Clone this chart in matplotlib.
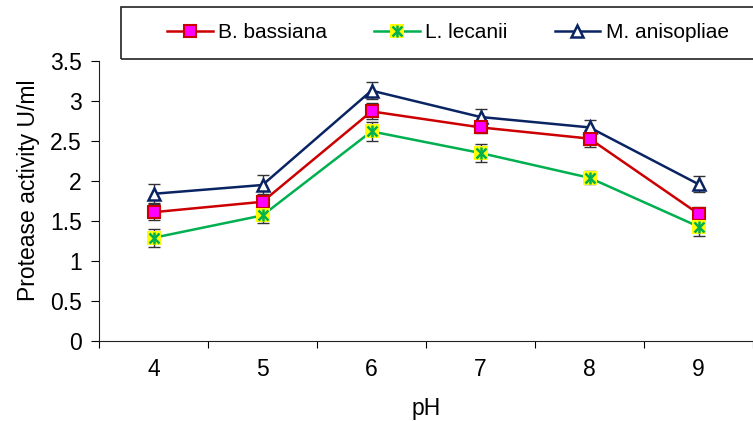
import matplotlib
matplotlib.use("Agg")
import matplotlib.pyplot as plt
from matplotlib.lines import Line2D
from matplotlib.patches import Rectangle
import numpy as np

plt.rcParams['font.family'] = ['Liberation Sans', 'DejaVu Sans']

ph = ['4', '5', '6', '7', '8', '9']
b_bassiana = [1.61, 1.74, 2.87, 2.67, 2.53, 1.59]
b_err = [0.10, 0.10, 0.10, 0.07, 0.11, 0.09]
l_lecanii = [1.29, 1.57, 2.62, 2.35, 2.04, 1.43]
l_err = [0.11, 0.10, 0.12, 0.11, 0.08, 0.12]
m_anisopliae = [1.84, 1.95, 3.13, 2.80, 2.67, 1.96]
m_err = [0.12, 0.12, 0.11, 0.10, 0.09, 0.10]

red = '#CC0000'
magenta = '#FF00FF'
green = '#00B050'
yellow = '#FFFF00'
navy = '#0A2463'
FS_AX = 16.5
FS_LEG = 15

fig = plt.figure(figsize=(7.53, 4.21), dpi=100)
ax = fig.add_axes([99/753, 80/421, 654/753, 280/421])
x = np.arange(len(ph))

ekw = dict(fmt='none', ecolor='#333333', elinewidth=1.0, capsize=4, capthick=1.0, zorder=2)
ax.errorbar(x, m_anisopliae, yerr=m_err, **ekw)
ax.errorbar(x, b_bassiana, yerr=b_err, **ekw)
ax.errorbar(x, l_lecanii, yerr=l_err, **ekw)

ax.plot(x, m_anisopliae, color=navy, lw=1.8, marker='^', ms=8.5, mfc='white', mec=navy, mew=1.8, zorder=4)
ax.plot(x, b_bassiana, color=red, lw=1.8, marker='s', ms=8.5, mfc=magenta, mec=red, mew=1.5, zorder=4)
ax.plot(x, l_lecanii, color=green, lw=1.8, zorder=3)
ax.plot(x, l_lecanii, ls='none', marker='s', ms=9.5, mfc=yellow, mec=yellow, mew=0, zorder=4)
ax.plot(x, l_lecanii, ls='none', marker='x', ms=7, mec=green, mew=1.8, zorder=5)
ax.plot(x, l_lecanii, ls='none', marker='|', ms=8, mec=green, mew=1.8, zorder=5)

ax.set_xlim(-0.5, len(ph) - 0.5)
ax.set_ylim(0, 3.5)
ax.set_yticks(np.arange(0, 3.51, 0.5))
ax.set_yticklabels(['0', '0.5', '1', '1.5', '2', '2.5', '3', '3.5'])
ax.set_xticks(x)
ax.set_xticklabels(ph)
ax.set_xticks(np.arange(-0.5, len(ph), 1.0), minor=True)
ax.tick_params(axis='x', which='major', length=0, pad=12.5, labelsize=FS_AX)
ax.tick_params(axis='x', which='minor', length=5, width=0.8, direction='out')
ax.tick_params(axis='y', length=6, width=0.8, direction='out', labelsize=FS_AX, pad=6.5)
for s in ['top', 'right']:
    ax.spines[s].set_visible(False)
for s in ['left', 'bottom']:
    ax.spines[s].set_linewidth(0.8)
    ax.spines[s].set_color('#222222')

ax.set_ylabel('Protease activity U/ml', fontsize=FS_AX, labelpad=7)
ax.yaxis.label.set_y(0.54)
ax.set_xlabel('pH', fontsize=FS_AX, labelpad=11)

# legend
h_b = Line2D([], [], color=red, lw=1.8, marker='s', ms=8.5, mfc=magenta, mec=red, mew=1.5)
h_l = (Line2D([], [], color=green, lw=1.8),
       Line2D([], [], ls='none', marker='s', ms=9.5, mfc=yellow, mec=yellow, mew=0),
       Line2D([], [], ls='none', marker='x', ms=7, mec=green, mew=1.8),
       Line2D([], [], ls='none', marker='|', ms=8, mec=green, mew=1.8))
h_m = Line2D([], [], color=navy, lw=1.8, marker='^', ms=8.5, mfc='white', mec=navy, mew=1.8)

fig.patches.append(Rectangle((121/753, (421-59)/421), (760-121)/753, 52/421,
                             transform=fig.transFigure, fill=False, edgecolor='#222222', lw=1.2))
fig.legend([h_b, h_l, h_m], ['B. bassiana', 'L. lecanii', 'M. anisopliae'],
           loc='center', bbox_to_anchor=(448/753, (421-33)/421), ncol=3, frameon=False,
           fontsize=FS_LEG, handlelength=2.2, handletextpad=0.25, columnspacing=2.25)

fig.savefig('out.png', dpi=100)
